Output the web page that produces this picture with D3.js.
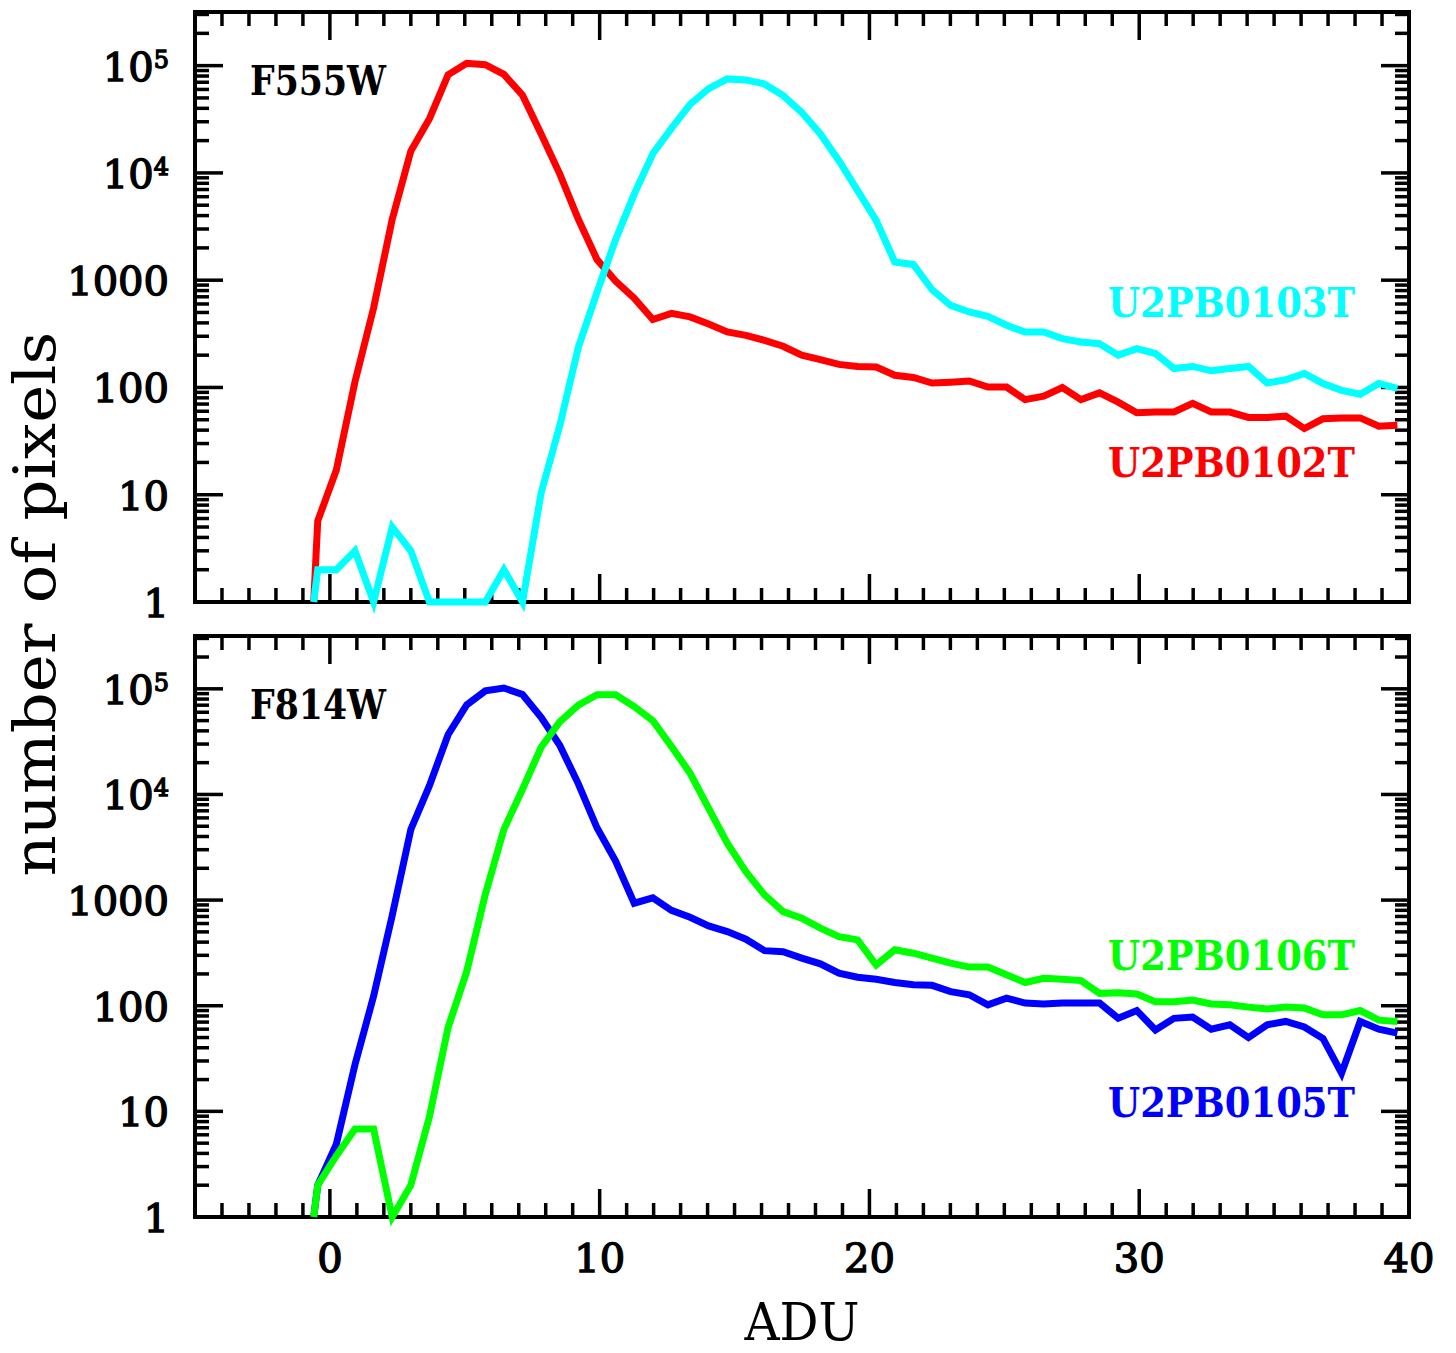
<!DOCTYPE html>
<html><head><meta charset="utf-8">
<script src="https://cdn.jsdelivr.net/npm/d3@7"></script>
<style>body{margin:0;background:#fff}</style>
</head><body>
<svg id="chart" width="1456" height="1353"></svg>
<script>
// ---- data ----
const adu = [-0.6, -0.45, 0.24, 0.93, 1.62, 2.31, 3.00, 3.69, 4.38, 5.07, 5.76, 6.45, 7.14, 7.83, 8.52, 9.21, 9.90,
  10.59, 11.28, 11.97, 12.66, 13.35, 14.04, 14.73, 15.42, 16.11, 16.80, 17.49, 18.18, 18.87, 19.56, 20.25,
  20.94, 21.63, 22.32, 23.01, 23.70, 24.39, 25.08, 25.77, 26.46, 27.15, 27.84, 28.53, 29.22, 29.91, 30.60,
  31.29, 31.98, 32.67, 33.36, 34.05, 34.74, 35.43, 36.12, 36.81, 37.50, 38.19, 38.88, 39.57];

const u2pb0102 = [1, 5.7, 17, 113, 550, 3700, 16000, 32000, 82000, 105000, 102000, 83000, 53000, 23000, 9800, 3700,
  1560, 980, 680, 430, 490, 455, 390, 329, 306, 275, 242, 200, 182, 164, 157, 155, 130, 124, 110, 112, 115, 101,
  101, 77, 83, 100, 77, 89, 73, 58, 59, 59, 71, 59, 59, 52.5, 52.5, 54, 41.4, 51, 52, 52, 43.5, 44.5];

const u2pb0103 = [1, 2, 2, 3, 1, 5, 3, 1, 1, 1, 1, 2, 1, 10.4, 44, 237, 768, 2390, 6350, 15100, 26000, 43500, 61000,
  75200, 73600, 67500, 52500, 36700, 23100, 13000, 6850, 3600, 1475, 1400, 815, 582, 505, 460, 380, 329, 329, 285,
  265, 256, 200, 230, 207, 150, 157, 143, 150, 157, 110, 118, 135, 109, 94, 86.5, 109, 98];

const u2pb0105 = [1, 2, 4.9, 27.7, 123, 715, 4660, 12100, 36800, 70400, 95600, 101700, 88500, 53800, 29200, 12600,
  4840, 2340, 935, 1050, 800, 687, 570, 503, 426, 332, 325, 282, 249, 203, 186, 178, 166, 158, 156, 136, 127, 102,
  118, 106, 104, 106, 106, 106, 76, 90, 59, 76, 78, 60, 66, 50, 66, 71, 63, 49, 23, 71, 60, 55];

const u2pb0106 = [1, 2, 3.8, 6.8, 6.8, 1, 2, 8.9, 62, 210, 1130, 4670, 11200, 28000, 48700, 70000, 88000, 88000,
  68000, 50000, 28500, 15900, 7400, 3460, 1860, 1120, 778, 673, 542, 451, 420, 243, 338, 314, 282, 253, 232, 232,
  196, 166, 182, 178, 173, 131, 133, 129, 109, 109, 113, 104, 102, 97, 93, 97, 95, 82, 82, 90, 73, 71];

const xTickValues = [0, 10, 20, 30, 40];
const xTickLabels = ["0", "10", "20", "30", "40"];
const yTickValues = [1, 10, 100, 1000, 1e4, 1e5];
const yTickLabels = ["1", "10", "100", "1000", "10^4", "10^5"];
const panelNames = ["F555W", "F814W"];
const seriesNames = [["U2PB0102T", "U2PB0103T"], ["U2PB0105T", "U2PB0106T"]];
const seriesValues = [[u2pb0102, u2pb0103], [u2pb0105, u2pb0106]];
const seriesColors = [["#ff0000", "#00ffff"], ["#0000ff", "#00ff00"]];
const xLabel = "ADU";
const yLabel = "number of pixels";

// ---- layout ----
const svg = d3.select("#chart");
const left = 195, right = 1409;
const panels = [
  {top: 12, bottom: 602, labelY: [477, 317], nameY: 95},
  {top: 636, bottom: 1217, labelY: [1117, 970], nameY: 719}
];
const x = d3.scaleLinear().domain([-5, 40]).range([left, right]);
const serif = "'DejaVu Serif', serif";

panels.forEach((p, pi) => {
  const y = d3.scaleLog().domain([1, Math.pow(10, 5.5)]).range([p.bottom, p.top]);
  const g = svg.append("g");

  // y ticks (log, major + minor) on left and right
  const yt = [];
  for (let d = 0; d <= 5; d++) for (let m = 1; m <= 9; m++) {
    const v = m * Math.pow(10, d);
    if (v > 1 && v < Math.pow(10, 5.5)) yt.push({v, major: m === 1});
  }
  yt.forEach(t => {
    const len = t.major ? 28 : 14;
    const yy = y(t.v);
    g.append("line").attr("x1", left).attr("x2", left + len).attr("y1", yy).attr("y2", yy)
      .attr("stroke", "#000").attr("stroke-width", 3.5);
    g.append("line").attr("x1", right).attr("x2", right - len).attr("y1", yy).attr("y2", yy)
      .attr("stroke", "#000").attr("stroke-width", 3.5);
  });
  // x ticks top and bottom
  d3.range(-4, 40).forEach(v => {
    const major = v % 10 === 0;
    const len = major ? 28 : 14;
    const xx = x(v);
    g.append("line").attr("x1", xx).attr("x2", xx).attr("y1", p.bottom).attr("y2", p.bottom - len)
      .attr("stroke", "#000").attr("stroke-width", 3.5);
    g.append("line").attr("x1", xx).attr("x2", xx).attr("y1", p.top).attr("y2", p.top + len)
      .attr("stroke", "#000").attr("stroke-width", 3.5);
  });
  // frame
  g.append("rect").attr("x", left).attr("y", p.top).attr("width", right - left).attr("height", p.bottom - p.top)
    .attr("fill", "none").attr("stroke", "#000").attr("stroke-width", 4);

  // y tick labels
  yTickValues.forEach((v, i) => {
    const lab = yTickLabels[i];
    const t = g.append("text").attr("x", 169).attr("y", y(v) + 15).attr("text-anchor", "end")
      .attr("font-family", serif).attr("font-size", 40).attr("fill", "#000")
      .attr("stroke", "#000").attr("stroke-width", 1.4);
    if (lab.includes("^")) {
      const [b, e] = lab.split("^");
      t.append("tspan").text(b);
      t.append("tspan").attr("font-size", 24).attr("dy", -13).text(e);
    } else t.text(lab);
  });

  // lines
  const line = d3.line().x((d, i) => x(adu[i])).y(d => y(d));
  seriesValues[pi].forEach((vals, si) => {
    g.append("path").datum(vals).attr("d", line).attr("fill", "none")
      .attr("stroke", seriesColors[pi][si]).attr("stroke-width", 7).attr("stroke-linejoin", "miter");
  });

  // labels
  g.append("text").attr("x", 250).attr("y", p.nameY).attr("font-family", serif).attr("font-weight", "bold")
    .attr("font-size", 41).attr("textLength", 136).attr("lengthAdjust", "spacingAndGlyphs")
    .attr("fill", "#000").text(panelNames[pi]);
  seriesNames[pi].forEach((n, si) => {
    g.append("text").attr("x", 1108).attr("y", p.labelY[si]).attr("font-family", serif).attr("font-weight", "bold")
      .attr("font-size", 41).attr("textLength", 247).attr("lengthAdjust", "spacingAndGlyphs")
      .attr("fill", seriesColors[pi][si]).text(n);
  });

  // x tick labels on bottom panel
  if (pi === 1) {
    xTickValues.forEach((v, i) => {
      g.append("text").attr("x", x(v)).attr("y", 1272).attr("text-anchor", "middle")
        .attr("font-family", serif).attr("font-size", 40).attr("fill", "#000")
        .attr("stroke", "#000").attr("stroke-width", 1.4).text(xTickLabels[i]);
    });
  }
});

svg.append("text").attr("x", 802).attr("y", 1340).attr("text-anchor", "middle")
  .attr("font-family", serif).attr("font-size", 52).attr("textLength", 115).attr("lengthAdjust", "spacingAndGlyphs")
  .attr("fill", "#000").text(xLabel);
svg.append("text").attr("transform", "translate(55,604) rotate(-90)").attr("text-anchor", "middle")
  .attr("font-family", serif).attr("font-size", 57).attr("textLength", 545).attr("lengthAdjust", "spacingAndGlyphs")
  .attr("fill", "#000").text(yLabel);
</script>
</body></html>
